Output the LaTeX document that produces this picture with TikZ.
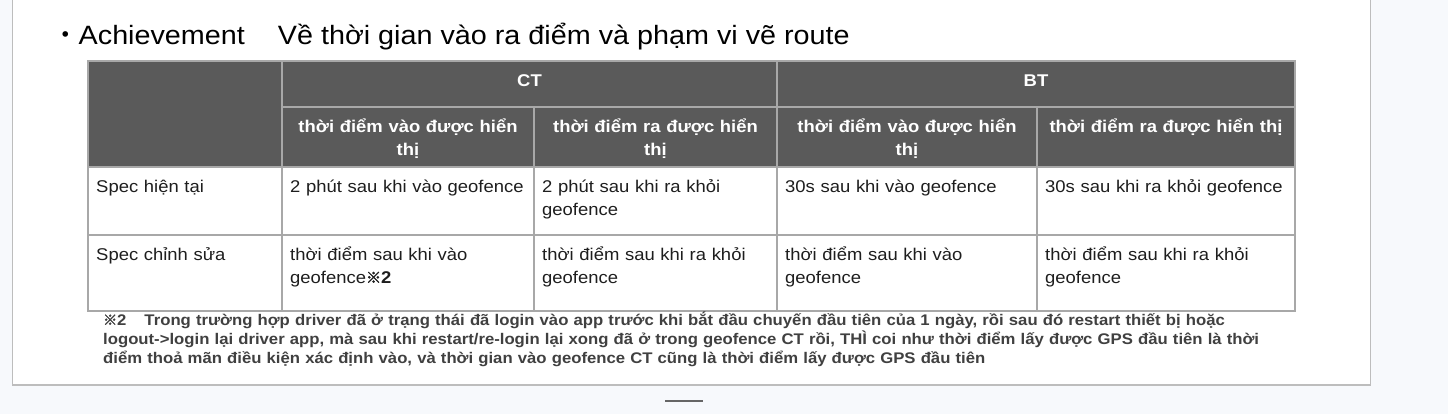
\documentclass[tikz,border=0pt]{standalone}
\usepackage{fontspec}
\setmainfont[FakeStretch=1.085]{Liberation Sans}
\newfontfamily\cjk{Noto Sans CJK JP}
\newfontfamily\cjkbold[FakeBold=2.5]{Noto Sans CJK JP}
\definecolor{pagebg}{HTML}{F7F9FC}
\definecolor{panelline}{HTML}{BDBDBD}
\definecolor{hdrfill}{HTML}{5A5A5A}
\definecolor{gridc}{HTML}{A8A8A8}
\definecolor{cbody}{HTML}{1E1E1E}
\definecolor{cnote}{HTML}{404040}
\definecolor{dashc}{HTML}{666666}
\begin{document}
\begin{tikzpicture}[x=1pt,y=-1pt,
  hdrtxt/.style={text=white, font=\bfseries\fontsize{17}{23}\selectfont, align=center, anchor=base, inner sep=0pt, text width=240pt},
  celltxt/.style={text=cbody, font=\fontsize{17}{23}\selectfont, align=left, anchor=base west, inner sep=0pt, text width=240pt},
  gridline/.style={draw=gridc, line width=1.6pt},
]
\useasboundingbox (0,0) rectangle (1448,414);
\fill[pagebg] (0,0) rectangle (1448,414);
\filldraw[fill=white, draw=panelline, line width=1.2pt] (12.5,-5) rectangle (1370.5,385);
\draw[dashc, line width=2pt] (665,400.5) -- (703,400.5);

% title
\node[anchor=base west, inner sep=0pt, text=black, font=\fontsize{26.5}{32}\selectfont] (title) at (52,45)
  {{\cjk ・}Achievement\hspace{33pt}Về thời gian vào ra điểm và phạm vi vẽ route};

% table
\fill[hdrfill] (88,61) rectangle (1295,167);
\draw[gridline] (88,61) rectangle (1295,311);
\draw[gridline] (282,61) -- (282,311);
\draw[gridline] (777,61) -- (777,311);
\draw[gridline] (534,107) -- (534,311);
\draw[gridline] (1037,107) -- (1037,311);
\draw[gridline] (282,107) -- (1295,107);
\draw[gridline] (88,167) -- (1295,167);
\draw[gridline] (88,235) -- (1295,235);

% headers
\node[hdrtxt] (hCT) at (529.5,87) {CT};
\node[hdrtxt] (hBT) at (1036,87) {BT};
\node[hdrtxt] (h1) at (408,133) {thời điểm vào được hiển\\thị};
\node[hdrtxt] (h2) at (655.5,133) {thời điểm ra được hiển\\thị};
\node[hdrtxt] (h3) at (907,133) {thời điểm vào được hiển\\thị};
\node[hdrtxt] (h4) at (1166,133) {thời điểm ra được hiển thị};

% row 1
\node[celltxt] (r1c0) at (96,193) {Spec hiện tại};
\node[celltxt] (r1c1) at (290,193) {2 phút sau khi vào geofence};
\node[celltxt] (r1c2) at (542,193) {2 phút sau khi ra khỏi\\geofence};
\node[celltxt] (r1c3) at (785,193) {30s sau khi vào geofence};
\node[celltxt] (r1c4) at (1045,193) {30s sau khi ra khỏi geofence};

% row 2
\node[celltxt] (r2c0) at (96,260) {Spec chỉnh sửa};
\node[celltxt] (r2c1) at (290,260) {thời điểm sau khi vào\\geofence{\cjkbold\fontsize{15}{23}\selectfont ※}{\bfseries 2}};
\node[celltxt] (r2c2) at (542,260) {thời điểm sau khi ra khỏi\\geofence};
\node[celltxt] (r2c3) at (785,260) {thời điểm sau khi vào\\geofence};
\node[celltxt] (r2c4) at (1045,260) {thời điểm sau khi ra khỏi\\geofence};

% footnote
\node[anchor=base west, inner sep=0pt, text=cnote, font=\bfseries\fontsize{15.4}{19}\selectfont, align=left, text width=1250pt] (note) at (103,325)
  {{\cjkbold\fontsize{14}{19}\selectfont ※}2\hspace{18pt}Trong trường hợp driver đã ở trạng thái đã login vào app trước khi bắt đầu chuyến đầu tiên của 1 ngày, rồi sau đó restart thiết bị hoặc\\
   logout->login lại driver app, mà sau khi restart/re-login lại xong đã ở trong geofence CT rồi, THÌ coi như thời điểm lấy được GPS đầu tiên là thời\\
   điểm thoả mãn điều kiện xác định vào, và thời gian vào geofence CT cũng là thời điểm lấy được GPS đầu tiên};
\end{tikzpicture}
\end{document}
